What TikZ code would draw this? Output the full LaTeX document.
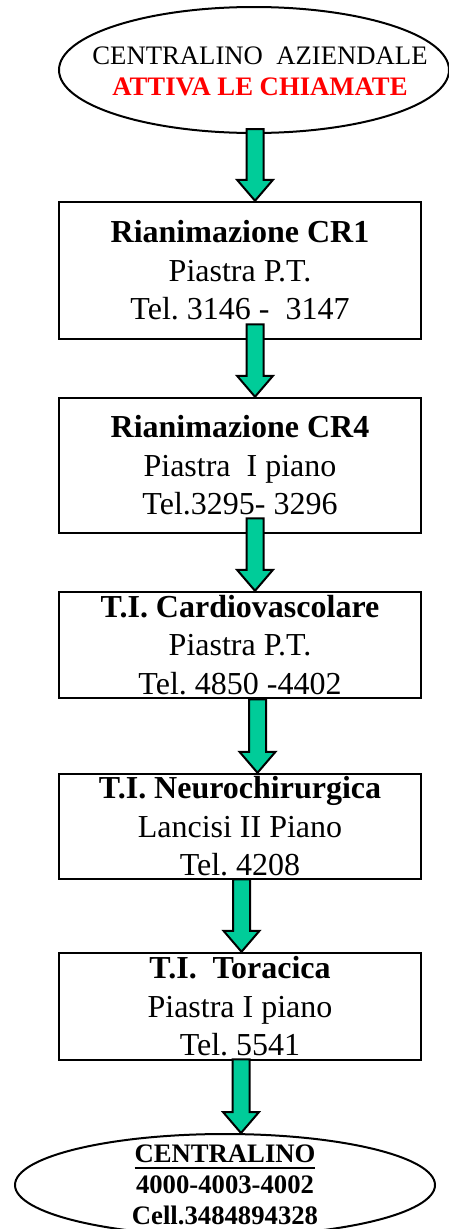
\documentclass[tikz,border=0pt]{standalone}
\usepackage{fontspec}
\setmainfont{Liberation Serif}
\usetikzlibrary{shapes.geometric,calc}
\frenchspacing

\definecolor{arrowgreen}{RGB}{0,204,153}

% thick underline
\newcommand{\thickul}[1]{\setbox0\hbox{#1}\rlap{\raisebox{-6pt}{\rule{\wd0}{2pt}}}\box0}

% block arrow: start of the shaft, point of the head
\newcommand{\flowarrow}[2]{%
   \draw[greenarrow] let \p1 = #1, \p2 = #2 in
      (\x1-8.5pt,\y1) -- (\x1+8.5pt,\y1) -- (\x1+8.5pt,\y2+21pt)
      -- (\x1+18pt,\y2+21pt) -- (\x1,\y2) -- (\x1-18pt,\y2+21pt)
      -- (\x1-8.5pt,\y2+21pt) -- cycle;}

\begin{document}
\begin{tikzpicture}[x=1pt, y=-1pt,
      box/.style={draw, line width=2.5pt, minimum width=362pt, inner sep=0pt,
                  align=center, font=\fontsize{32}{38.5}\selectfont},
      oval/.style={draw, ellipse, line width=2pt, inner sep=0pt},
      ovaltext/.style={align=center, inner sep=0pt, font=\fontsize{26.7}{31}\selectfont},
      greenarrow/.style={draw, line width=2pt, fill=arrowgreen, line join=miter}]

   \useasboundingbox (0,0) rectangle (449,1229);

% Centralino aziendale
   \node[oval, minimum width=390pt, minimum height=126pt] (aziendale) at (254,70) {};
   \node[ovaltext] (aziendaletxt) at (260,71)
      {CENTRALINO~~AZIENDALE\\ \textcolor{red}{\textbf{ATTIVA LE CHIAMATE}}};

% Rianimazione
   \node[box, minimum height=137pt] (cr1) at (240,270.5)
      {\textbf{Rianimazione CR1}\\Piastra P.T.\\Tel. 3146 -~~3147};
   \node[box, minimum height=135pt] (cr4) at (240,465.5)
      {\textbf{Rianimazione CR4}\\Piastra~~I piano\\Tel.3295- 3296};

% Terapie intensive
   \node[box, minimum height=106pt] (cardio) at (240,645)
      {\textbf{T.I. Cardiovascolare}\\Piastra P.T.\\Tel. 4850 -4402};
   \node[box, minimum height=105pt] (neuro) at (240,826.5)
      {\textbf{T.I. Neurochirurgica}\\Lancisi II Piano\\Tel. 4208};
   \node[box, minimum height=107pt] (toracica) at (240,1006.5)
      {\textbf{T.I.~~Toracica}\\Piastra I piano\\Tel. 5541};

% Centralino
   \node[oval, minimum width=420pt, minimum height=102pt] (centralino) at (225,1185) {};
   \node[ovaltext, font=\fontsize{26.7}{31}\selectfont\bfseries] (centralinotxt) at (225,1185)
      {\thickul{CENTRALINO}\\4000-4003-4002\\Cell.3484894328};

% arrows
   \flowarrow{($(aziendale.south)+(1,-5)$)}{(cr1.north)}
   \flowarrow{($(cr1.south)+(15,-16)$)}{(cr4.north)}
   \flowarrow{($(cr4.south)+(15,-16)$)}{(cardio.north)}
   \flowarrow{($(cardio.south)+(17.5,0)$)}{(neuro.north)}
   \flowarrow{($(neuro.south)+(1.5,-1)$)}{(toracica.north)}
   \flowarrow{($(toracica.south)+(1,-2)$)}{(centralino.north)}

\end{tikzpicture}
\end{document}
